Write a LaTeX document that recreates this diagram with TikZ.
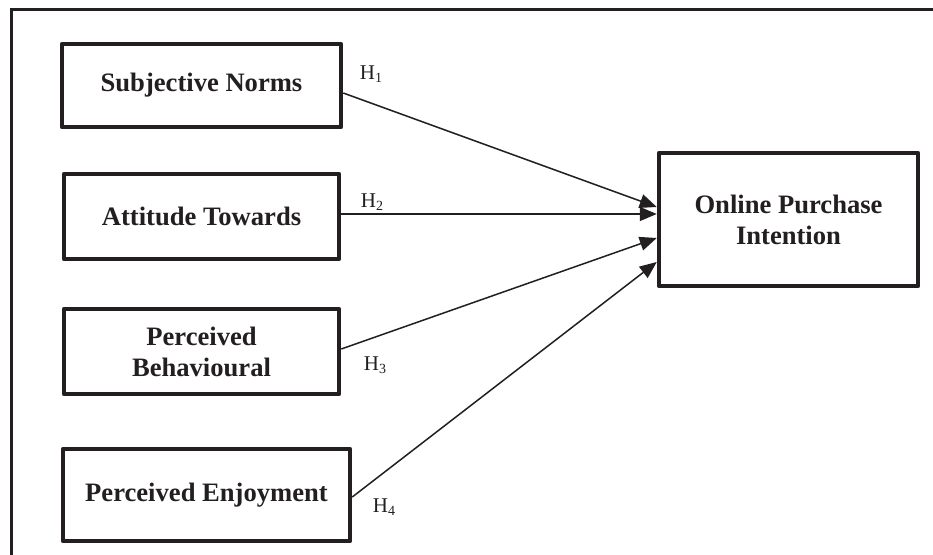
\documentclass[tikz,border=0pt]{standalone}
\usepackage{fontspec}
\setmainfont{Liberation Serif}
\usetikzlibrary{arrows.meta}
\definecolor{ink}{HTML}{231F20}
\newcommand{\hyp}[1]{H\raisebox{-3pt}{\fontsize{14}{14}\selectfont #1}}
\tikzset{
  box/.style={draw=ink, line width=4.5pt, line join=round, rectangle, align=center,
    text=ink, font=\bfseries\fontsize{26.6}{31}\selectfont, inner sep=0pt},
  hlab/.style={text=ink, font=\fontsize{21}{22}\selectfont, inner sep=0pt},
  arr/.style={draw=ink, line width=1.5pt, -{Triangle[length=17pt,width=14pt]}}
}
\begin{document}
\begin{tikzpicture}[x=1pt,y=-1pt]
\useasboundingbox (0,0) rectangle (933,554);
\clip (0,0) rectangle (933,554);
\fill[white] (0,0) rectangle (933,554);
\draw[ink, line width=3pt] (11,570) -- (11,9) -- (950,9);

\node[box, minimum width=279pt, minimum height=83pt] (sn) at (201.5,85.5) {Subjective Norms};
\node[box, minimum width=275pt, minimum height=85pt] (at) at (201.5,216.5) {Attitude Towards};
\node[box, minimum width=275pt, minimum height=85pt] (pb) at (201.5,351.5) {Perceived\\Behavioural};
\node[box, minimum width=287pt, minimum height=92pt] (pe) at (206.5,495) {Perceived Enjoyment};
\node[box, minimum width=259pt, minimum height=133pt] (opi) at (788.5,219.5) {Online Purchase\\Intention};

\node[hlab] (h1) at (371,74) {\hyp{1}};
\node[hlab] (h2) at (372,202) {\hyp{2}};
\node[hlab] (h3) at (375,365) {\hyp{3}};
\node[hlab] (h4) at (384,507) {\hyp{4}};

\draw[arr] ([yshift=-7.5pt]sn.east) -- ([yshift=12.5pt]opi.west);
\draw[arr] ([yshift=2.5pt]at.east) -- ([yshift=5.5pt]opi.west);
\draw[arr] ([yshift=2.5pt]pb.east) -- ([yshift=-18.5pt]opi.west);
\draw[arr] ([yshift=-2pt]pe.east) -- ([yshift=-42.5pt]opi.west);
\end{tikzpicture}
\end{document}
